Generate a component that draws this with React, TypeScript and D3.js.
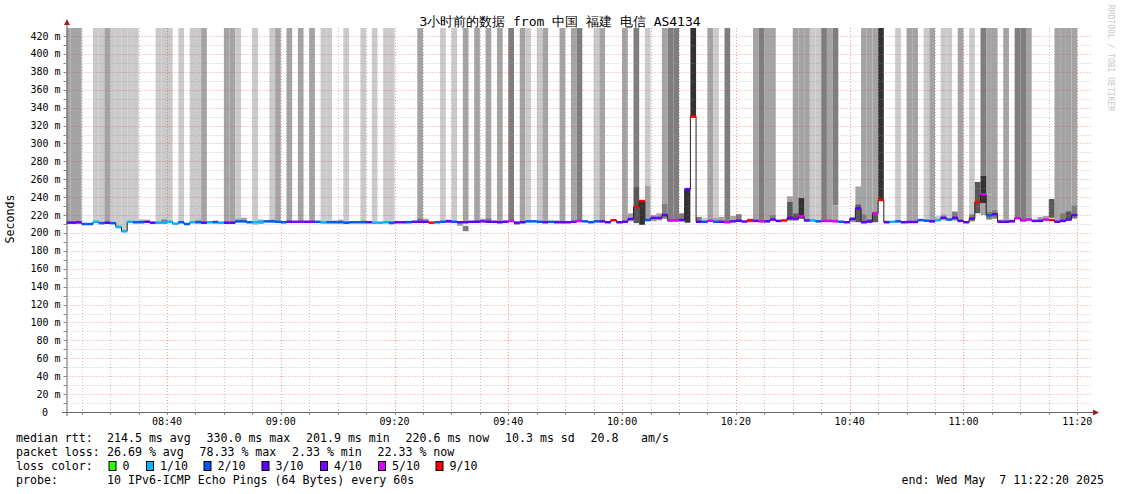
import React from 'react';
import * as d3 from 'd3';

// ---------- data ----------
const titleText = '3小时前的数据 from 中国 福建 电信 AS4134';
const startTime = new Date(2025, 4, 7, 8, 22, 20);
const endTime = new Date(2025, 4, 7, 11, 22, 20);
const firstSlot = new Date(2025, 4, 7, 8, 22, 0);

// median RTT per minute (ms)
const medianMs = [
  211.6, 211.6, 212, 210, 210, 212.5, 211, 211.5, 211, 206.8,
  202, 212.5, 212, 212, 212.5, 211.5, 211.5, 211.5, 212.5, 210.5,
  212, 210, 212, 212, 211.5, 212, 212, 211.5, 211.5, 211.5,
  213, 213, 212, 212, 212.5, 213, 213, 212.5, 212, 212.5,
  212.5, 212.5, 212.5, 212.5, 212.5, 211.8, 212, 212, 212, 211.5,
  212, 212, 212, 212, 211.5, 211.5, 212, 211.5, 212, 212,
  212, 212.5, 212.5, 212.5, 211.5, 212, 212.5, 213, 212.5, 212,
  212, 212.5, 212.5, 213, 212.5, 212.5, 212, 212.5, 213.4, 211.5,
  212, 213, 213, 212.5, 212, 212.5, 212, 212, 212, 212.5,
  213.4, 213, 212, 213, 213, 212, 214.3, 212, 212.5, 215.6,
  229, 235.7, 214.4, 216.8, 216.8, 220, 214, 214, 214.5, 249,
  330, 212.5, 212.5, 213.7, 212.5, 212.5, 212, 213, 213.7, 212.8,
  214, 213.5, 213, 213, 215, 213.5, 214, 217, 216, 218.5,
  214, 214, 213, 213.5, 213.5, 213, 212.5, 212, 215.5, 227.5,
  212, 213, 222, 236.8, 212, 212.5, 213, 212, 212.3, 212.3,
  214.4, 213.7, 213, 214.5, 217, 215, 217, 213.5, 212, 216,
  234.6, 243.2, 219.7, 221, 212.5, 212.5, 213, 216.5, 214, 215,
  213.5, 213.5, 215, 214.5, 212.5, 213.5, 215, 220,
];

// lost pings (of 10) per minute
const lossCount = [
  3, 3, 4, 2, 2, 1, 2, 3, 2, 1,
  1, 1, 2, 2, 3, 3, 1, 1, 1, 1,
  2, 2, 1, 2, 3, 1, 2, 1, 3, 3,
  2, 2, 2, 1, 1, 2, 2, 2, 2, 3,
  4, 4, 3, 4, 2, 1, 2, 2, 2, 2,
  2, 2, 2, 3, 1, 1, 1, 2, 3, 3,
  2, 3, 3, 3, 9, 2, 2, 3, 2, 3,
  3, 3, 3, 4, 3, 3, 3, 3, 5, 3,
  3, 2, 2, 2, 3, 2, 3, 3, 3, 4,
  5, 2, 2, 2, 3, 3, 9, 3, 3, 3,
  9, 9, 2, 3, 3, 3, 5, 5, 3, 3,
  9, 3, 2, 5, 2, 3, 5, 3, 3, 3,
  9, 3, 5, 3, 3, 3, 9, 3, 4, 5,
  3, 1, 2, 5, 5, 5, 2, 3, 3, 3,
  3, 3, 5, 9, 3, 1, 2, 3, 3, 3,
  2, 2, 3, 1, 3, 2, 3, 3, 3, 3,
  9, 5, 2, 3, 3, 3, 3, 5, 5, 5,
  3, 3, 5, 9, 3, 3, 3, 3,
];

// smoke reaching the top of the graph: [minute index, from ms, shade 1..5]
const topSmoke: [number, number, number][] = [
  [0, 210, 2], [1, 210, 2], [2, 210, 2], [5, 211, 1], [6, 210, 1], [7, 210, 2], [8, 210, 1],
  [9, 205, 1], [10, 200.5, 1], [11, 211, 1], [12, 211, 1], [16, 210.5, 1], [17, 210.5, 1],
  [18, 211.5, 1], [20, 211, 1], [22, 211, 1], [23, 211, 1], [24, 210.5, 2], [28, 210.5, 2],
  [29, 210.5, 2], [30, 212, 1], [33, 211, 1], [36, 212, 1], [37, 211.5, 2], [39, 211.5, 2],
  [41, 211.5, 2], [43, 211.5, 2], [45, 210.8, 1], [46, 211, 1], [49, 210.5, 1], [52, 211, 1],
  [54, 210.5, 1], [56, 211, 1], [57, 210.5, 1], [62, 211.5, 2], [66, 211.5, 1], [68, 211.5, 1],
  [70, 211, 2], [72, 211.5, 2], [74, 211.5, 2], [76, 211, 2], [78, 212.4, 3], [80, 211, 2],
  [81, 212, 1], [83, 211.5, 1], [84, 211, 2], [87, 211, 2], [89, 211.5, 2], [90, 212.4, 3],
  [93, 212, 1], [94, 212, 2], [98, 211.5, 2], [100, 252, 3], [102, 253, 1], [105, 233, 2],
  [106, 213, 3], [107, 213, 3], [110, 330, 5], [113, 212.7, 2], [114, 217, 1], [116, 211, 3],
  [121, 212.5, 2], [122, 212, 3], [123, 212, 2], [124, 220, 2], [128, 222, 2], [129, 239, 2],
  [130, 213, 2], [131, 213, 1], [132, 212, 1], [133, 212.5, 3], [134, 212.5, 2], [135, 231, 3],
  [140, 221, 2], [141, 216, 2], [142, 224, 2], [143, 237, 5], [146, 212, 1], [148, 211.3, 2],
  [149, 211.3, 2], [151, 212.7, 1], [152, 212, 2], [154, 221, 1], [155, 214, 1], [157, 212.5, 2],
  [159, 221, 1], [161, 264, 3], [162, 243, 2], [163, 226, 2], [165, 211.5, 2], [167, 215.5, 3],
  [168, 213, 3], [169, 214, 2], [174, 211.5, 2], [175, 214, 2], [176, 216, 2], [177, 231, 2],
];

// smoke bands inside the graph: [minute index, low ms, high ms, shade 1..5]
const midSmoke: [number, number, number, number][] = [
  [13, 212, 215, 2], [14, 212, 215, 1], [17, 211, 215, 3], [23, 212, 215, 2], [26, 212, 214, 2],
  [30, 212, 216, 2], [31, 212, 217, 2], [33, 209, 212, 1], [34, 210, 215, 2], [36, 212, 215, 2],
  [47, 211, 214, 2], [48, 211, 215, 2], [52, 212, 214, 2], [57, 209, 212, 1], [60, 212, 214, 1],
  [62, 212, 216, 3], [63, 212, 216, 2], [67, 212, 215, 2], [69, 208, 212, 2], [70, 202, 208, 3],
  [73, 212, 216, 2], [74, 212, 216, 3], [77, 212, 214, 2], [79, 209, 212, 2], [86, 212, 214, 2],
  [99, 213, 222, 2], [100, 211, 252, 4], [101, 209, 236, 5], [102, 214, 253, 2], [103, 213, 220, 2],
  [104, 214, 222, 2], [105, 216, 233, 3], [108, 213, 222, 3], [109, 211.5, 249, 5], [111, 212, 218, 3],
  [112, 211, 217, 1], [114, 212, 217, 2], [115, 212, 218, 2], [117, 213, 219, 2], [118, 213, 221, 3],
  [120, 212, 216, 3], [124, 214, 220, 3], [127, 235, 241, 2], [127, 214, 235, 4], [128, 214, 222, 4],
  [129, 216, 239, 5], [135, 213, 231, 2], [138, 212, 218, 2], [139, 232, 252, 2], [139, 212, 232, 4],
  [140, 211, 221, 3], [141, 211, 216, 3], [142, 212, 224, 4], [144, 212, 214, 1], [153, 213, 219, 1],
  [154, 214, 221, 2], [156, 214, 224, 3], [159, 213, 221, 3], [160, 222, 257, 4], [161, 233, 264, 5],
  [161, 220, 233, 2], [162, 224, 243, 2], [162, 215, 224, 3], [163, 216, 226, 3], [164, 212, 215, 2],
  [166, 213, 215, 2], [171, 213, 218, 2], [172, 214, 219, 2], [173, 217, 238, 4], [175, 213, 222, 3],
  [176, 214, 224, 4], [177, 216, 231, 3],
];

const smokeShades = ['#ffffff', '#cacaca', '#a4a4a4', '#7e7e7e', '#585858', '#323232'];
const lossColors: Record<number, string> = {
  0: '#26ff00', 1: '#00b8ff', 2: '#0059ff', 3: '#5e00ff', 4: '#7e00ff', 5: '#dd00ff', 9: '#ff0000',
};
const legendLoss = [
  { n: 0, label: '0' }, { n: 1, label: '1/10' }, { n: 2, label: '2/10' }, { n: 3, label: '3/10' },
  { n: 4, label: '4/10' }, { n: 5, label: '5/10' }, { n: 9, label: '9/10' },
];
const rttRow = ['median rtt:', '214.5 ms avg', '330.0 ms max', '201.9 ms min', '220.6 ms now', '10.3 ms sd', '20.8', 'am/s'];
const lossRow = ['packet loss:', '26.69 % avg', '78.33 % max', '2.33 % min', '22.33 % now'];
const probeText = '10 IPv6-ICMP Echo Pings (64 Bytes) every 60s';
const endText = 'end: Wed May  7 11:22:20 2025';

// ---------- layout ----------
const W = 1121, H = 494;
const PL = 66.5, PR = 1090.5, PT = 28, PB = 412;
const YMAX = 429;
const mono = "'DejaVu Sans Mono', monospace";
const minorGrid = 'rgba(150,150,150,0.55)';
const majorGrid = 'rgba(235,60,60,0.5)';
const legendFont = 11.6;

export default function App() {
  const x = d3.scaleTime().domain([startTime, endTime]).range([PL, PR]);
  const y = d3.scaleLinear().domain([0, YMAX]).range([PB, PT]);

  const colX = (j: number) => {
    const t0 = d3.timeMinute.offset(firstSlot, j);
    const t1 = d3.timeMinute.offset(firstSlot, j + 1);
    return [Math.max(x(t0), PL), x(t1)];
  };

  const minorY = d3.range(10, 421, 10).filter((v) => v % 20 !== 0);
  const majorY = d3.range(20, 421, 20);
  const allTicks = x.ticks(d3.timeMinute.every(5) as any);
  const majorX = allTicks.filter((t) => t.getMinutes() % 20 === 0);
  const minorX = allTicks.filter((t) => t.getMinutes() % 20 !== 0);

  const stepPts: [number, number][] = medianMs.map((m, j) => [colX(j)[0], y(m)]);
  stepPts.push([colX(medianMs.length - 1)[1], y(medianMs[medianMs.length - 1])]);
  const stepLine = d3.line().curve(d3.curveStepAfter)(stepPts) || '';

  const rttX = [16, 107, 206.5, 306, 405.5, 505, 590.5, 641];
  const lossX = [16, 107, 199.5, 292, 377.5];
  const boxX = [108.5, 146, 203.5, 261.5, 320, 378, 435.5];
  const ry = (v: number) => Math.round(y(v)) + 0.5;
  const rx = (t: Date) => Math.round(x(t)) + 0.5;

  return (
    <svg width={W} height={H} style={{ position: 'absolute', left: 0, top: 0, background: '#fff' }}
      xmlns="http://www.w3.org/2000/svg">
      <rect x={0} y={0} width={W} height={H} fill="#fff" />

      {/* smoke to top */}
      {topSmoke.map(([j, from, s], i) => {
        const [a, b] = colX(j);
        return <rect key={'t' + i} x={a} width={b - a} y={PT} height={y(from) - PT} fill={smokeShades[s]} />;
      })}
      {/* inner smoke bands */}
      {midSmoke.map(([j, lo, hi, s], i) => {
        const [a, b] = colX(j);
        return <rect key={'m' + i} x={a} width={b - a} y={y(hi)} height={y(lo) - y(hi)} fill={smokeShades[s]} />;
      })}

      {/* grid */}
      <g strokeDasharray="1,2" strokeWidth={1}>
        {minorY.map((v) => (
          <line key={'gy' + v} x1={PL} x2={PR} y1={ry(v)} y2={ry(v)} stroke={minorGrid} />
        ))}
        {minorX.map((t, i) => (
          <line key={'gx' + i} x1={rx(t)} x2={rx(t)} y1={PT} y2={PB} stroke={minorGrid} />
        ))}
        {majorY.map((v) => (
          <line key={'my' + v} x1={PL} x2={PR} y1={ry(v)} y2={ry(v)} stroke={majorGrid} />
        ))}
        {majorX.map((t, i) => (
          <line key={'mx' + i} x1={rx(t)} x2={rx(t)} y1={PT} y2={PB} stroke={majorGrid} />
        ))}
      </g>

      {/* median step line */}
      <path d={stepLine} fill="none" stroke="#202020" strokeWidth={1} />
      {medianMs.map((m, j) => {
        const [a, b] = colX(j);
        return <rect key={'c' + j} x={a} width={b - a} y={y(m) - 1.25} height={2.5} fill={lossColors[lossCount[j]]} />;
      })}

      {/* axes */}
      <line x1={62} x2={1093} y1={PB + 0.5} y2={PB + 0.5} stroke="#666" />
      <line x1={PL + 0.5} x2={PL + 0.5} y1={PB + 4} y2={24} stroke="#666" />
      <path d={`M ${PL + 0.5 - 3} 25 L ${PL + 0.5 + 3} 25 L ${PL + 0.5} 19 Z`} fill="#a02020" />
      <path d={`M 1093 ${PB + 0.5 - 3} L 1093 ${PB + 0.5 + 3} L 1099 ${PB + 0.5} Z`} fill="#a02020" />
      {[...minorY, ...majorY].map((v) => (
        <line key={'ty' + v} x1={PL - 3} x2={PL} y1={ry(v)} y2={ry(v)} stroke="#888" />
      ))}
      {allTicks.map((t, i) => (
        <line key={'tx' + i} x1={rx(t)} x2={rx(t)} y1={PB} y2={PB + 3} stroke="#888" />
      ))}

      {/* axis labels */}
      <g fontFamily={mono} fontSize={10} fill="#000">
        {majorY.map((v) => (
          <text key={'ly' + v} x={60.5} y={y(v) + 3.5} textAnchor="end">{`${v} m`}</text>
        ))}
        <text x={48} y={y(0) + 3.5} textAnchor="end">0</text>
        {majorX.map((t, i) => (
          <text key={'lx' + i} x={x(t)} y={425} textAnchor="middle">{d3.timeFormat('%H:%M')(t)}</text>
        ))}
      </g>

      {/* title */}
      <text x={560} y={26} textAnchor="middle" fontFamily={mono} fontSize={13} fill="#000">{titleText}</text>
      <text transform="translate(14,219) rotate(-90)" textAnchor="middle" fontFamily={mono} fontSize={legendFont} fill="#000">Seconds</text>
      <text transform="translate(1108,5) rotate(90)" fontFamily={mono} fontSize={8} fill="#c8c8c8">RRDTOOL / TOBI OETIKER</text>

      {/* legend */}
      <g fontFamily={mono} fontSize={legendFont} fill="#000" style={{ whiteSpace: 'pre' }}>
        {rttRow.map((s, i) => <text key={'r' + i} x={rttX[i]} y={442}>{s}</text>)}
        {lossRow.map((s, i) => <text key={'l' + i} x={lossX[i]} y={456}>{s}</text>)}
        <text x={16} y={470}>loss color:</text>
        {legendLoss.map((d, i) => (
          <g key={'b' + i}>
            <rect x={boxX[i] + 0.5} y={461.5} width={7} height={9} fill={lossColors[d.n]} stroke="#000" />
            <text x={boxX[i] + 14} y={470}>{d.label}</text>
          </g>
        ))}
        <text x={16} y={484}>probe:</text>
        <text x={107} y={484}>{probeText}</text>
        <text x={1104} y={484} textAnchor="end" style={{ whiteSpace: 'pre' }}>{endText}</text>
      </g>
    </svg>
  );
}
